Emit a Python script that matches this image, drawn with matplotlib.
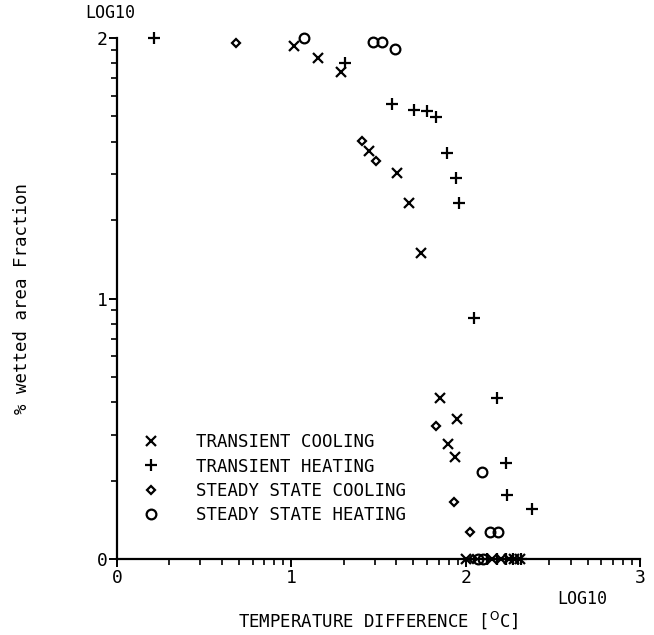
import numpy as np
import matplotlib
matplotlib.use("Agg")
import matplotlib.pyplot as plt
from matplotlib.ticker import FixedLocator

# --- data (log10 temperature difference, log10 % wetted area fraction) ---
tc_x = [1.015, 1.151, 1.283, 1.448, 1.605, 1.675, 1.744, 1.853, 1.949, 1.901, 1.939,
        2.00, 2.15, 2.20, 2.25, 2.28, 2.31]
tc_y = [1.970, 1.922, 1.871, 1.567, 1.483, 1.365, 1.176, 0.617, 0.537, 0.440, 0.390,
        0.0, 0.0, 0.0, 0.0, 0.0, 0.0]

th_x = [0.212, 1.308, 1.576, 1.704, 1.780, 1.830, 1.895, 1.945, 1.964, 2.050, 2.182,
        2.232, 2.236, 2.379, 2.12, 2.18, 2.23, 2.27, 2.32]
th_y = [1.999, 1.903, 1.747, 1.724, 1.721, 1.696, 1.560, 1.461, 1.365, 0.924, 0.617,
        0.370, 0.246, 0.191, 0.0, 0.0, 0.0, 0.0, 0.0]

ssc_x = [0.683, 1.404, 1.486, 1.830, 1.933, 2.025, 2.04]
ssc_y = [1.980, 1.606, 1.528, 0.511, 0.220, 0.105, 0.0]

ssh_x = [1.073, 1.467, 1.522, 1.595, 2.092, 2.140, 2.188, 2.07, 2.10]
ssh_y = [1.999, 1.983, 1.983, 1.958, 0.335, 0.105, 0.105, 0.0, 0.0]

labels = ["TRANSIENT COOLING", "TRANSIENT HEATING",
          "STEADY STATE COOLING", "STEADY STATE HEATING"]

plt.rcParams['font.family'] = ['DejaVu Sans Mono']

fig = plt.figure(figsize=(6.54, 6.35), dpi=100)
ax = fig.add_axes([117/654, 1-559/635, (640-117)/654, (559-38)/635])

k = 'black'
h1, = ax.plot(tc_x, tc_y, linestyle='none', marker='x', color=k, ms=7, mew=1.6, clip_on=False)
h2, = ax.plot(th_x, th_y, linestyle='none', marker='+', color=k, ms=8, mew=1.6, clip_on=False)
h3, = ax.plot(ssc_x, ssc_y, linestyle='none', marker='D', mfc='none', mec=k, ms=4.5, mew=1.6, clip_on=False)
h4, = ax.plot(ssh_x, ssh_y, linestyle='none', marker='o', mfc='none', mec=k, ms=7, mew=1.6, clip_on=False)

ax.set_xlim(0, 3)
ax.set_ylim(0, 2)
for s in ['top', 'right']:
    ax.spines[s].set_visible(False)
ax.spines['left'].set_linewidth(1.6)
ax.spines['bottom'].set_linewidth(1.6)

ax.xaxis.set_major_locator(FixedLocator([0, 1, 2, 3]))
ax.yaxis.set_major_locator(FixedLocator([0, 1, 2]))
minor = [d + np.log10(m) for d in range(3) for m in range(2, 10)]
ax.xaxis.set_minor_locator(FixedLocator(minor))
ax.yaxis.set_minor_locator(FixedLocator([v for v in minor if v < 2]))
ax.tick_params(axis='both', which='major', direction='out', length=6, width=1.4,
               labelsize=13, pad=1)
ax.tick_params(axis='both', which='minor', direction='out', length=4, width=1.2)

ax.text(-0.013, 1.03, "LOG10", transform=ax.transAxes, ha='center', va='bottom', fontsize=12)
ax.text(0.889, -0.06, "LOG10", transform=ax.transAxes, ha='center', va='top', fontsize=12)

ax.set_xlabel("TEMPERATURE DIFFERENCE [$^{\\mathrm{O}}$C]", fontsize=12.5, labelpad=16)
ax.set_ylabel("% wetted area Fraction", fontsize=12.5, labelpad=47)

leg = ax.legend([h1, h2, h3, h4], labels, loc='upper left',
                bbox_to_anchor=(0.029, 0.258), frameon=False, fontsize=12.5,
                handlelength=1.2, handletextpad=2.0, labelspacing=0.36,
                borderpad=0, numpoints=1)

fig.savefig("out.png", dpi=100)
